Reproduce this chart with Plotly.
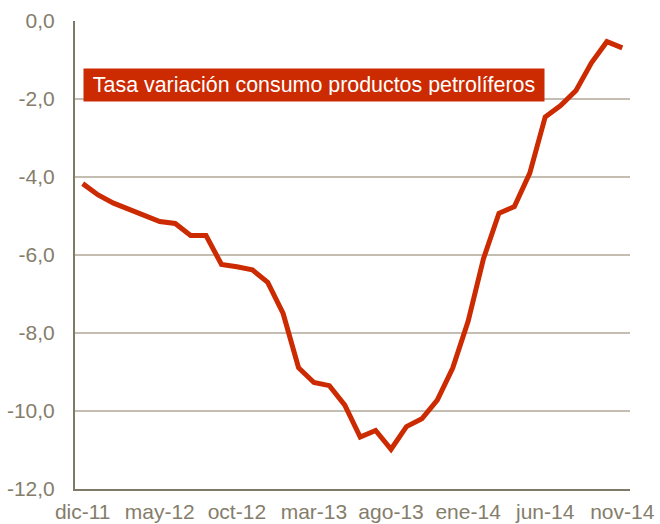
import plotly.graph_objects as go

months = ["dic-11", "ene-12", "feb-12", "mar-12", "abr-12", "may-12", "jun-12", "jul-12", "ago-12",
          "sep-12", "oct-12", "nov-12", "dic-12", "ene-13", "feb-13", "mar-13", "abr-13", "may-13",
          "jun-13", "jul-13", "ago-13", "sep-13", "oct-13", "nov-13", "dic-13", "ene-14", "feb-14",
          "mar-14", "abr-14", "may-14", "jun-14", "jul-14", "ago-14", "sep-14", "oct-14", "nov-14"]
tasa = [-4.17, -4.46, -4.67, -4.82, -4.97, -5.14, -5.19, -5.5, -5.5,
        -6.24, -6.3, -6.38, -6.7, -7.5, -8.89, -9.27, -9.35, -9.85,
        -10.67, -10.5, -10.98, -10.4, -10.2, -9.72, -8.9, -7.7, -6.09,
        -4.93, -4.76, -3.9, -2.46, -2.17, -1.78, -1.07, -0.53, -0.69]
tick_labels = ["dic-11", "may-12", "oct-12", "mar-13", "ago-13", "ene-14", "jun-14", "nov-14"]
y_ticks = [0, -2, -4, -6, -8, -10, -12]
label = "Tasa variación consumo productos petrolíferos"

RED = "#CC2A00"
TXT = "#857D6B"
FONT = "Liberation Sans, Arial, sans-serif"

y_text = [f"{v:.1f}".replace(".", ",") for v in y_ticks]

fig = go.Figure()
fig.add_trace(go.Scatter(x=months, y=tasa, mode="lines",
                         line=dict(color=RED, width=5), hoverinfo="skip", showlegend=False))

fig.add_annotation(xref="paper", yref="paper", x=0.0144, y=0.8996, xanchor="left", yanchor="top",
                   text=label, showarrow=False, bgcolor=RED, width=448, height=20, align="center",
                   font=dict(family=FONT, size=21.4, color="white"), borderpad=6)

fig.update_layout(
    width=660, height=524,
    margin=dict(l=75, r=30, t=21, b=35),
    paper_bgcolor="white", plot_bgcolor="white",
    font=dict(family=FONT, size=21, color=TXT),
    xaxis=dict(type="category", range=[-0.5, 35.5], tickmode="array", tickvals=tick_labels,
               ticktext=tick_labels, showgrid=False, showline=True, linecolor="#7F7A68",
               linewidth=2, ticks="", ticklabelstandoff=3, automargin=False,
               tickfont=dict(family=FONT, size=21, color=TXT)),
    yaxis=dict(range=[-12, 0], tickmode="array", tickvals=y_ticks, ticktext=y_text,
               showgrid=True, gridcolor="#C4BEB2", gridwidth=1.5, zeroline=False,
               showline=True, linecolor="#7F7A68", linewidth=2, ticks="", ticklabelstandoff=14,
               automargin=False, tickfont=dict(family=FONT, size=21, color=TXT)),
)

fig.write_html("out.html", config={"displayModeBar": False},
               post_script="document.body.style.margin='0';document.body.style.overflow='hidden';")
